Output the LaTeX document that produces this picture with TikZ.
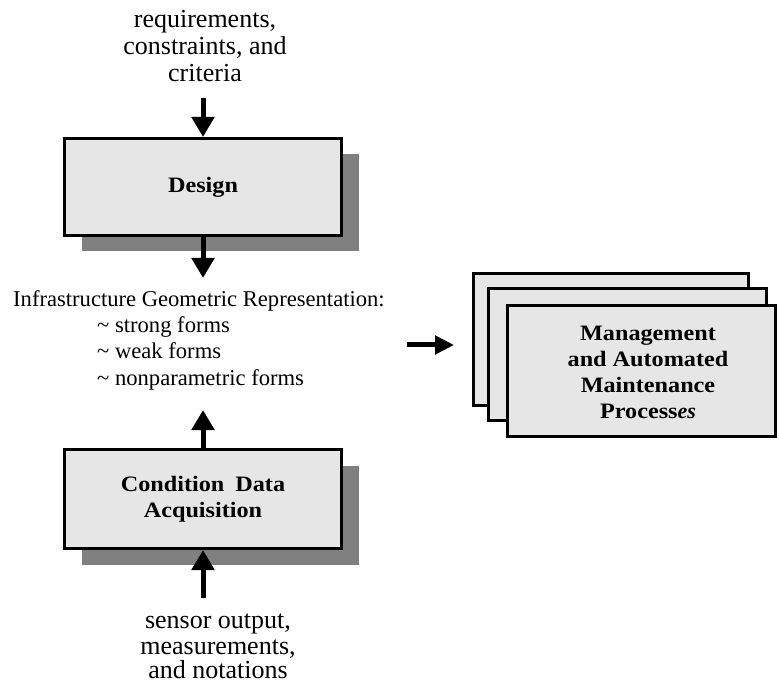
\documentclass[tikz,border=0pt]{standalone}
\usepackage{fontspec}
\setmainfont{Liberation Serif}[BoldFeatures={FakeStretch=1.1}]
\usetikzlibrary{arrows.meta,shadows}
\definecolor{boxfill}{HTML}{E6E6E6}
\definecolor{shadowgray}{HTML}{808080}
\begin{document}
\begin{tikzpicture}[x=1pt,y=-1pt,
  box/.style={draw=black,line width=3pt,fill=boxfill,align=center,inner sep=0pt,
    font=\bfseries\fontsize{22}{26}\selectfont},
  shadowed/.style={drop shadow={shadow xshift=17pt,shadow yshift=-16pt,fill=shadowgray,opacity=1}},
  arr/.style={line width=5pt,-{Triangle[width=22pt,length=20pt]}},
  sarr/.style={line width=5pt,-{Triangle[width=18pt,length=19pt]}},
  txt/.style={font=\fontsize{22.6}{26}\selectfont,inner sep=0pt,anchor=base west},
  lbl/.style={font=\fontsize{26}{27}\selectfont,inner sep=0pt,anchor=base}
]
\useasboundingbox (0,0) rectangle (779,684);

% top labels
\node[lbl] (req1) at (205,28) {requirements,};
\node[lbl] (req2) at (205,55) {constraints, and};
\node[lbl] (req3) at (205,82) {criteria};

% design box
\node[box,shadowed,minimum width=277pt,minimum height=97pt] (design) at (203,187) {Design};

% representation text
\node[txt] (irep) at (13,307) {Infrastructure Geometric Representation:};
\node[txt] (f1) at (97,333) {\textasciitilde\ strong forms};
\node[txt] (f2) at (97,359) {\textasciitilde\ weak forms};
\node[txt] (f3) at (97,385) {\textasciitilde\ nonparametric forms};

% condition box
\node[box,shadowed,minimum width=277pt,minimum height=99pt] (cond) at (203,499) {Condition\enspace Data\\Acquisition};

% bottom labels
\node[lbl] (sen1) at (218,628) {sensor output,};
\node[lbl] (sen2) at (218,654) {measurements,};
\node[lbl] (sen3) at (218,678) {and notations};

% management stack
\node[box,minimum width=275pt,minimum height=132pt] (mback) at (611,339.5) {};
\node[box,minimum width=278pt,minimum height=132pt] (mmid) at (627.5,354.5) {};
\node[box,minimum width=268pt,minimum height=131pt] (mfront) at (641.5,371) {};
\node[align=center,inner sep=0pt,font=\bfseries\fontsize{22}{26}\selectfont] (mtext) at (648,372)
  {Management\\and Automated\\Maintenance\\Process\textit{es}};

% arrows
\coordinate (topin) at (203,98);
\coordinate (downtip) at (203,278);
\coordinate (uptip) at (203,410);
\coordinate (botin) at (203,598);
\coordinate (rin) at (407,345);
\coordinate (rtip) at (454,345);
\draw[arr] (topin) -- (design.north);
\draw[arr] (design.south) -- (downtip);
\draw[arr] (cond.north) -- (uptip);
\draw[arr] (botin) -- (cond.south);
\draw[sarr] (rin) -- (rtip);
\end{tikzpicture}
\end{document}
